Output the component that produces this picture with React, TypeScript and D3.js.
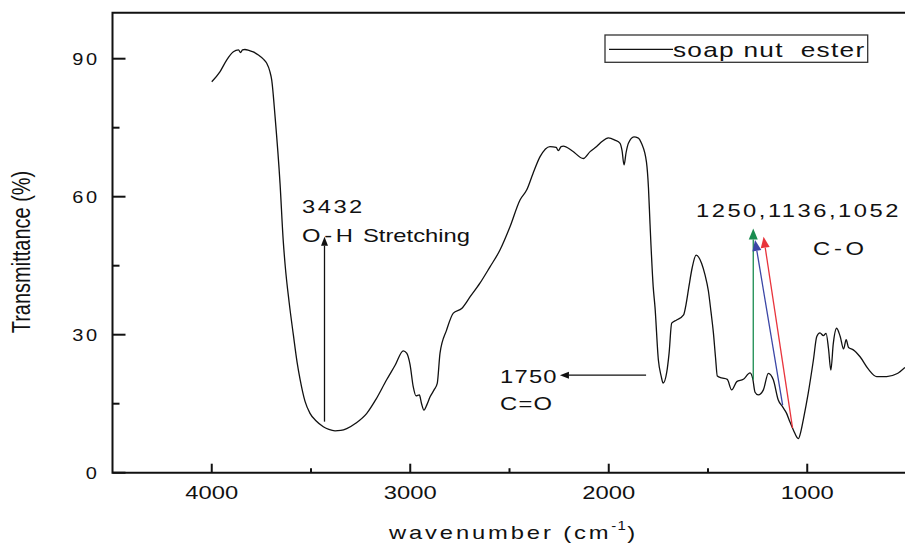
import { useEffect, useRef } from 'react';
import * as d3 from 'd3';

// FTIR spectrum
const wavenumbers = [
  4000, 3958, 3925, 3891, 3865, 3855, 3845, 3833, 3812, 3791, 3765, 3740, 3723, 3707, 3698,
  3681, 3656, 3640, 3630, 3610, 3589, 3570, 3555, 3530, 3505, 3475, 3438, 3410, 3379, 3350,
  3320, 3273, 3219, 3172, 3119, 3077, 3035, 3018, 3001, 2985, 2971, 2954, 2943, 2931, 2916,
  2900, 2880, 2864, 2850, 2817, 2783, 2741, 2699, 2649, 2599, 2548, 2498, 2447, 2413, 2382,
  2346, 2296, 2265, 2254, 2240, 2229, 2185, 2128, 2094, 2061, 2034, 2002, 1969, 1943, 1933,
  1923, 1913, 1901, 1873, 1853, 1834, 1810, 1800, 1792, 1776, 1767, 1750, 1736, 1726, 1708,
  1696, 1683, 1658, 1623, 1611, 1596, 1580, 1560, 1532, 1515, 1498, 1485, 1473, 1462, 1453,
  1431, 1403, 1381, 1355, 1322, 1288, 1275, 1263, 1247, 1221, 1196, 1171, 1146, 1124, 1104,
  1087, 1070, 1045, 1032, 1020, 995, 969, 952, 936, 919, 905, 893, 881, 869, 852,
  834, 817, 804, 792, 768, 734, 692, 650, 600, 549, 508,
];
const transmittance = [
  85.0, 87.2, 89.7, 91.5, 91.9, 91.3, 91.9, 92.0, 91.8, 91.5, 90.8, 89.9, 89.0, 87.2, 85.4,
  77.4, 62.9, 50.5, 45.0, 37.0, 30.0, 24.0, 20.3, 15.5, 12.9, 11.3, 10.0, 9.4, 9.1, 9.2,
  9.6, 10.8, 12.9, 16.0, 20.2, 23.3, 26.5, 26.0, 23.5, 18.7, 16.7, 16.9, 15.0, 13.6, 14.8,
  16.5, 18.0, 19.4, 26.0, 31.0, 34.7, 35.7, 38.2, 41.2, 44.7, 48.4, 53.4, 59.3, 61.5, 65.0,
  68.7, 70.9, 70.7, 70.0, 70.9, 71.0, 70.0, 68.3, 69.8, 70.9, 72.0, 72.8, 72.3, 71.6, 70.0,
  66.9, 69.5, 71.6, 73.0, 72.8, 71.5, 67.5, 62.0, 54.0, 40.4, 36.0, 24.5, 21.0, 19.5, 21.8,
  26.0, 32.5, 33.2, 34.3, 36.5, 40.5, 44.5, 47.3, 45.5, 43.0, 39.5, 35.0, 30.5, 25.0, 21.0,
  20.6, 20.3, 18.0, 19.8, 20.3, 21.7, 20.5, 17.5, 16.9, 18.0, 21.6, 20.2, 15.8, 14.3, 12.9,
  11.0, 9.3, 7.4, 9.0, 11.5, 17.3, 24.5, 29.6, 30.4, 29.8, 30.3, 27.0, 22.3, 28.0, 31.4,
  29.6, 26.9, 28.9, 27.2, 26.7, 25.2, 22.5, 20.9, 20.9, 21.5, 22.9,
];

const xMajorTicks = [4000, 3000, 2000, 1000];
const xMinorTicks = [3500, 2500, 1500, 500];
const yMajorTicks = [0, 30, 60, 90];
const yMinorTicks = [15, 45, 75];
const seriesName = 'soap nut  ester';

// band annotations: arrow from (wn, T) to head at (wn, T)
const arrowFromWn = [3432, 1812, 1272, 1124, 1074];
const arrowFromT = [11.1, 21.2, 20.2, 14.7, 9.7];
const arrowToWn = [3432, 2246, 1272, 1263, 1220];
const arrowToT = [51.3, 21.2, 53.1, 50.6, 51.3];

const arrowColors = ['#111', '#111', '#1a8c50', '#3b46a6', '#e8343c'];
const SX = 1.25; // the source figure is stretched sideways

export default function App() {
  const svgRef = useRef<SVGSVGElement>(null);

  useEffect(() => {
    if (!svgRef.current) return;

    const width = 905;
    const height = 543;
    const margin = { top: 12.7, right: -1.5, bottom: 70.3, left: 112.5 };

    d3.select(svgRef.current).selectAll('*').remove();

    const svg = d3.select(svgRef.current)
      .attr('width', width)
      .attr('height', height)
      .style('font-family', 'Arial, "Liberation Sans", sans-serif');

    const x = d3.scaleLinear()
      .domain([4500, 500])
      .range([margin.left, width - margin.right]);

    const y = d3.scaleLinear()
      .domain([0, 100])
      .range([height - margin.bottom, margin.top]);

    const x0 = x.range()[0];
    const x1 = x.range()[1];
    const yb = y(0);
    const yt = y(100);

    const label = (txt: string, px: number, py: number, size: number, spacing: number, anchor = 'start') =>
      svg.append('text')
        .attr('transform', `translate(${px},${py}) scale(${SX},1)`)
        .attr('font-size', size)
        .attr('letter-spacing', spacing)
        .attr('text-anchor', anchor)
        .attr('fill', '#111')
        .text(txt);

    // frame
    svg.append('path')
      .attr('d', `M${x1},${yt}H${x0}V${yb}H${x1}`)
      .attr('fill', 'none')
      .attr('stroke', '#111')
      .attr('stroke-width', 2);

    // x ticks (inward)
    xMajorTicks.forEach(t => {
      svg.append('line')
        .attr('x1', x(t)).attr('x2', x(t))
        .attr('y1', yb).attr('y2', yb - 9)
        .attr('stroke', '#111').attr('stroke-width', 2);
      label(String(t), x(t), yb + 26.5, 19, 0, 'middle');
    });
    xMinorTicks.forEach(t => {
      svg.append('line')
        .attr('x1', x(t)).attr('x2', x(t))
        .attr('y1', yb).attr('y2', yb - 4.5)
        .attr('stroke', '#111').attr('stroke-width', 2);
    });

    // y ticks (inward)
    yMajorTicks.forEach(t => {
      svg.append('line')
        .attr('x1', x0).attr('x2', x0 + 13)
        .attr('y1', y(t)).attr('y2', y(t))
        .attr('stroke', '#111').attr('stroke-width', 2);
      label(String(t), x0 - 13, y(t) + 5.8, 16, 2, 'end');
    });
    yMinorTicks.forEach(t => {
      svg.append('line')
        .attr('x1', x0).attr('x2', x0 + 7)
        .attr('y1', y(t)).attr('y2', y(t))
        .attr('stroke', '#111').attr('stroke-width', 2);
    });

    // axis titles
    svg.append('text')
      .attr('transform', `translate(30,252) rotate(-90) scale(1,${SX})`)
      .attr('font-size', 20)
      .attr('text-anchor', 'middle')
      .attr('fill', '#111')
      .text('Transmittance (%)');

    const xt = label('wavenumber (cm', 389, 539, 19, 2.3);
    xt.append('tspan').attr('font-size', 12).attr('dy', -9).attr('letter-spacing', 1).text('-1');
    xt.append('tspan').attr('dy', 9).attr('letter-spacing', 0).text(')');

    // spectrum
    const pts = wavenumbers.map((w, i) => [w, transmittance[i]] as [number, number]);
    const line = d3.line<[number, number]>()
      .x(d => x(d[0]))
      .y(d => y(d[1]))
      .curve(d3.curveMonotoneX);

    svg.append('path')
      .datum(pts)
      .attr('fill', 'none')
      .attr('stroke', '#111')
      .attr('stroke-width', 1.3)
      .attr('stroke-linejoin', 'round')
      .attr('d', line);

    // arrows
    arrowFromWn.forEach((w, i) => {
      const ax = x(w), ay = y(arrowFromT[i]);
      const bx = x(arrowToWn[i]), by = y(arrowToT[i]);
      const ang = Math.atan2(by - ay, bx - ax);
      const len = i < 2 ? 9 : 11;
      const half = i < 2 ? 3.5 : 4.5;
      const cx = bx - len * Math.cos(ang), cy = by - len * Math.sin(ang);
      svg.append('line')
        .attr('x1', ax).attr('y1', ay)
        .attr('x2', cx).attr('y2', cy)
        .attr('stroke', arrowColors[i])
        .attr('stroke-width', 1.3);
      const nx = -Math.sin(ang), ny = Math.cos(ang);
      svg.append('path')
        .attr('d', `M${bx},${by}L${cx + nx * half},${cy + ny * half}L${cx - nx * half},${cy - ny * half}Z`)
        .attr('fill', arrowColors[i]);
    });

    // annotation text
    label('3432', 302, 213.3, 19, 2);
    label('O-H', 302, 242.3, 19, 3);
    label('Stretching', 363, 242.3, 19, 0);
    label('1750', 500, 382.7, 19, 1);
    label('C=O', 500, 410, 19, 1);
    label('1250,1136,1052', 696, 217.3, 19, 2);
    label('C-O', 813, 255, 19, 3);

    // legend
    svg.append('rect')
      .attr('x', 605).attr('y', 35)
      .attr('width', 262.7).attr('height', 27.3)
      .attr('fill', 'white')
      .attr('stroke', '#333')
      .attr('stroke-width', 1.3);
    svg.append('line')
      .attr('x1', 609).attr('x2', 673)
      .attr('y1', 49.3).attr('y2', 49.3)
      .attr('stroke', '#111').attr('stroke-width', 1.3);
    label(seriesName, 673, 56.7, 21, 1).attr('xml:space', 'preserve').style('white-space', 'pre');
  }, []);

  return (
    <div style={{ position: 'absolute', left: 0, top: 0 }}>
      <svg ref={svgRef} style={{ display: 'block', background: 'white' }}></svg>
    </div>
  );
}
